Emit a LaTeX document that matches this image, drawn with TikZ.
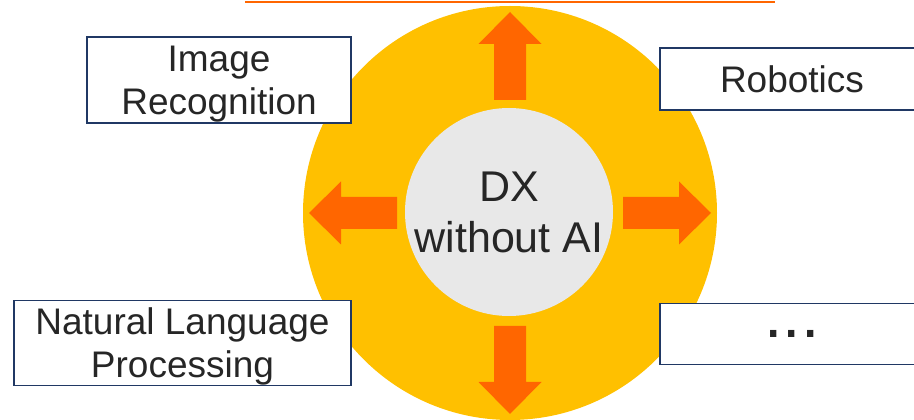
\documentclass[tikz,border=0pt]{standalone}
\usepackage{fontspec}
\setmainfont{Liberation Sans}
\usepackage{xcolor}
\usetikzlibrary{positioning}
\definecolor{ringgold}{HTML}{FFC000}
\definecolor{pushorange}{HTML}{FF6600}
\definecolor{coregrey}{HTML}{E8E8E8}
\definecolor{boxnavy}{HTML}{203864}
\definecolor{txtgrey}{HTML}{262626}

\begin{document}
\begin{tikzpicture}[x=1pt,y=1pt,
  every node/.style={text=txtgrey},
  ring/.style={circle,fill=ringgold,minimum size=414pt,inner sep=0pt},
  core/.style={circle,fill=coregrey,minimum size=208pt,inner sep=0pt,align=center,font=\fontsize{43}{51}\selectfont},
  field/.style={draw=boxnavy,line width=1.5pt,fill=white,inner sep=0pt,minimum width=264pt,align=center,font=\fontsize{37}{43}\selectfont},
  push/.style={fill=pushorange}]
\path[use as bounding box,clip] (0,0) rectangle (914,420);
\draw[pushorange,line width=2pt] (245,418) -- (775,418);

\node[ring] (ring) at (510,207) {};
\node[core] (core) at (509,208) {DX\\without AI};
% four outward arrows
\foreach \a in {0,90,180,270}
  \fill[push,shift={(ring.center)},rotate=\a] (113,-16) -- ++(56,0) -- ++(0,-15.5) -- ++(32,31.5) -- ++(-32,31.5) -- ++(0,-15.5) -- ++(-56,0) -- cycle;

\node[field,minimum height=86pt,text depth=0pt] (imgrec) at (219,340) {Image\\Recognition};
\node[field,minimum width=337pt,minimum height=85pt,text depth=0pt,below=176pt of imgrec.south east,anchor=north east] (nlp) {Natural Language\\Processing};
\node[field,minimum height=62pt] (robot) at (792,341) {Robotics};
\node[field,minimum height=61pt,below=192pt of robot.south west,anchor=north west,font=\fontsize{66}{66}\selectfont] (more) {...};
\end{tikzpicture}
\end{document}
